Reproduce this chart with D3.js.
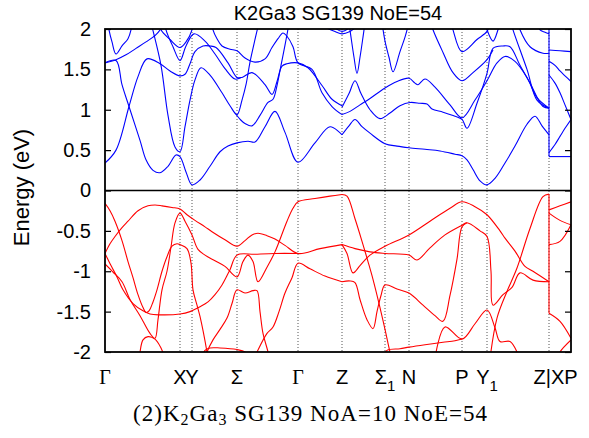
<!DOCTYPE html>
<html><head><meta charset="utf-8">
<script src="https://cdn.jsdelivr.net/npm/d3@7"></script>
<style>body{margin:0;background:#fff}svg{display:block}</style>
</head><body>
<svg id="c" width="589" height="438"></svg>
<script>
// high-symmetry points along the k-path
const kTicks  = [0, 0.75, 0.87, 1.32, 1.93, 2.37, 2.80, 3.04, 3.57, 3.82, 4.44, 4.66];
const kLabels = ["Γ","X","Y","Σ","Γ","Z","Σ","N","P","Y","Z|X","P"];
const kSubs   = ["","","","","","","1","","","1","",""];
const yTicks  = [2, 1.5, 1, 0.5, 0, -0.5, -1, -1.5, -2];
const kJump = 4.44;               // Z|X discontinuity
const cbJump = [0.42, 2.0];       // energies joined at the jump (conduction)
const vbJump = [-1.52, -0.045];   // energies joined at the jump (valence)

// conduction bands [k, E(eV)]
const cbA = [[0,0.34],[0.11,0.50],[0.24,1.04],[0.33,1.41],[0.42,1.63],[0.55,1.57],[0.65,1.48],[0.75,1.42],[0.80,1.44],[0.85,1.57],[0.90,1.72],[0.98,1.79],[1.05,1.79],[1.11,1.77],[1.23,1.58],[1.32,1.40],[1.37,1.40],[1.47,1.46],[1.60,1.31],[1.67,1.19],[1.72,1.35],[1.77,1.54],[1.82,1.57],[1.93,1.58],[2.03,1.52],[2.17,1.30],[2.27,1.13],[2.37,1.05]];
const cbB = [[0,1.58],[0.11,1.61],[0.17,1.31],[0.24,1.04],[0.35,0.62],[0.41,0.38],[0.48,0.25],[0.55,0.22],[0.63,0.30],[0.71,0.44],[0.75,0.42],[0.81,0.23],[0.87,0.07],[0.95,0.13],[1.05,0.30],[1.15,0.48],[1.23,0.55],[1.32,0.59],[1.43,0.61],[1.50,0.60],[1.60,0.79],[1.70,0.98],[1.80,0.72],[1.93,0.35],[2.10,0.59],[2.25,0.79],[2.37,0.69]];
const cbC = [[0.46,2.08],[0.48,1.98],[0.56,1.55],[0.63,0.93],[0.70,0.54],[0.75,0.48],[0.80,0.79],[0.85,1.12],[0.90,1.37],[0.96,1.52],[1.05,1.43],[1.17,1.21],[1.25,1.05],[1.32,0.94],[1.37,1.12],[1.41,1.31],[1.45,1.59],[1.50,1.87],[1.54,2.08]];
const cbD = [[0.03,2.08],[0.04,1.99],[0.07,1.84],[0.11,1.69],[0.17,1.79],[0.23,1.88],[0.26,1.99],[0.27,2.08]];
const cbE = [[0,1.58],[0.11,1.62],[0.21,1.68],[0.31,1.76],[0.41,1.84],[0.51,1.93],[0.57,2.02],[0.60,2.08]];
const cbF = [[0.55,2.08],[0.56,1.99],[0.65,1.87],[0.75,1.77],[0.81,1.84],[0.87,1.99],[0.88,2.08]];
const cbG = [[0.60,2.08],[0.61,1.99],[0.68,1.78],[0.75,1.61],[0.81,1.79],[0.89,1.94],[1.00,1.85],[1.10,1.69],[1.20,1.51],[1.30,1.38],[1.36,1.40]];
const cbH = [[1.07,2.08],[1.08,1.99],[1.12,1.88],[1.17,1.79],[1.25,1.75],[1.32,1.73],[1.40,1.64],[1.50,1.59],[1.60,1.63],[1.67,1.77],[1.73,1.88],[1.78,1.95],[1.82,1.91],[1.88,1.78],[1.93,1.58],[2.07,1.50],[2.17,1.21],[2.27,1.04],[2.37,0.94]];
const cbK = [[1.30,0.96],[1.36,0.87],[1.40,0.83],[1.47,0.80],[1.55,0.93],[1.63,1.09],[1.68,1.13],[1.72,1.30],[1.76,1.55],[1.80,1.80],[1.83,2.0],[1.84,2.08]];
const cbZ1 = [[2.10,2.08],[2.20,2.02],[2.30,1.97],[2.37,1.94],[2.45,1.97],[2.52,2.03],[2.58,2.08]];
const cbZ2 = [[2.22,2.08],[2.30,2.01],[2.37,1.97],[2.44,2.01],[2.50,2.08]];
const cbRlow = [[2.37,0.69],[2.44,0.80],[2.50,0.88],[2.57,0.79],[2.65,0.71],[2.80,0.58],[2.92,0.55],[3.04,0.53],[3.20,0.51],[3.35,0.49],[3.50,0.45],[3.57,0.43],[3.62,0.38],[3.68,0.26],[3.75,0.12],[3.82,0.07],[3.90,0.15],[4.00,0.34],[4.10,0.55],[4.22,0.82],[4.30,0.92],[4.37,0.80],[4.44,0.69]];
const cbRa = [[2.37,1.03],[2.44,1.20],[2.50,1.36],[2.56,1.20],[2.65,1.00],[2.75,0.89],[2.85,0.96],[2.95,1.05],[3.05,1.09],[3.15,1.08],[3.22,1.07],[3.27,1.01],[3.38,0.97],[3.50,0.92],[3.57,0.88],[3.62,0.77],[3.72,1.08],[3.82,1.45],[3.88,1.76],[3.98,1.79],[4.05,1.78],[4.15,1.55],[4.25,1.33],[4.38,1.04],[4.44,1.02]];
const cbRb = [[2.37,0.94],[2.45,0.98],[2.55,1.06],[2.65,1.14],[2.80,1.27],[2.92,1.35],[3.04,1.39],[3.10,1.33],[3.13,1.31],[3.20,1.38],[3.30,1.28],[3.45,1.06],[3.57,0.90],[3.70,1.12],[3.82,1.36],[3.92,1.58],[4.00,1.66],[4.10,1.60],[4.22,1.40],[4.32,1.15],[4.44,1.02]];
const cbRv1 = [[2.44,2.08],[2.46,1.90],[2.49,1.65],[2.52,1.45],[2.55,1.65],[2.58,1.90],[2.60,2.08]];
const cbRv2 = [[2.77,2.08],[2.80,1.85],[2.84,1.65],[2.88,1.47],[2.95,1.72],[3.00,1.90],[3.04,2.08]];
const cbRp1 = [[3.26,2.08],[3.28,1.99],[3.38,1.71],[3.48,1.46],[3.57,1.36],[3.68,1.46],[3.82,1.62],[3.88,1.74]];
const cbRp2 = [[3.46,2.08],[3.48,1.99],[3.57,1.72],[3.72,1.87],[3.82,1.97],[3.85,2.08]];
const cbRy1 = [[3.80,2.08],[3.82,1.99],[3.88,1.85],[3.93,1.99],[3.95,2.08]];
const cbRz1 = [[4.06,2.08],[4.08,1.99],[4.22,1.50],[4.32,1.12],[4.44,1.02]];
const cbRz2 = [[4.13,2.08],[4.15,1.99],[4.25,1.78],[4.38,1.70],[4.44,1.70]];
const cbRz3 = [[4.33,2.08],[4.35,1.99],[4.40,1.96],[4.44,1.94]];
const cbXP1 = [[4.44,1.74],[4.55,1.73],[4.66,1.72]];
const cbXP2 = [[4.44,1.60],[4.50,1.55],[4.55,1.48],[4.60,1.42],[4.66,1.35]];
const cbXP3 = [[4.44,1.43],[4.50,1.33],[4.55,1.21],[4.60,1.06],[4.66,0.88]];
const cbXP4 = [[4.44,0.47],[4.50,0.57],[4.55,0.67],[4.60,0.77],[4.66,0.88]];
const cbXP5 = [[4.44,0.42],[4.66,0.42]];

// valence bands [k, E(eV)]
const vb1 = [[0,-0.16],[0.05,-0.25],[0.10,-0.38],[0.17,-0.62],[0.23,-0.88],[0.28,-1.08],[0.33,-1.29],[0.38,-1.45],[0.41,-1.51],[0.44,-1.49],[0.48,-1.38],[0.52,-1.23],[0.57,-1.00],[0.62,-0.82],[0.67,-0.69],[0.72,-0.66],[0.75,-0.67],[0.82,-0.72],[0.86,-0.90],[0.88,-1.23],[0.92,-1.42],[0.95,-1.56],[1.02,-2.0],[1.03,-2.08]];
const vb2 = [[0,-0.78],[0.05,-0.66],[0.10,-0.57],[0.17,-0.46],[0.23,-0.38],[0.33,-0.25],[0.43,-0.19],[0.50,-0.18],[0.57,-0.19],[0.67,-0.21],[0.75,-0.23],[0.82,-0.30],[0.90,-0.37],[1.00,-0.45],[1.07,-0.51],[1.20,-0.61],[1.32,-0.69],[1.40,-0.62],[1.47,-0.55],[1.53,-0.53],[1.62,-0.56],[1.70,-0.60],[1.80,-0.68],[1.93,-0.78],[2.15,-0.72],[2.37,-0.67]];
const vb3 = [[0,-0.78],[0.06,-0.93],[0.12,-1.07],[0.18,-1.23],[0.28,-1.40],[0.38,-1.49],[0.45,-1.53],[0.55,-1.54],[0.75,-1.53],[0.85,-1.50],[0.95,-1.44],[1.03,-1.38],[1.10,-1.29],[1.17,-1.17],[1.25,-0.98],[1.32,-0.80],[1.50,-0.79],[1.70,-0.78],[1.93,-0.78]];
const vb4 = [[0,-0.91],[0.08,-1.01],[0.17,-1.13],[0.25,-1.35],[0.35,-1.55],[0.45,-1.77],[0.50,-1.83],[0.53,-1.60],[0.57,-1.23],[0.62,-1.00],[0.66,-0.70],[0.70,-0.40],[0.75,-0.28],[0.80,-0.38],[0.87,-0.55],[0.93,-0.73],[1.00,-0.80],[1.10,-0.87],[1.20,-0.94],[1.32,-1.07],[1.38,-0.88],[1.43,-0.80],[1.48,-0.88],[1.53,-1.13],[1.62,-0.95],[1.70,-0.76],[1.82,-0.38],[1.88,-0.22],[1.93,-0.14],[2.10,-0.10],[2.25,-0.07],[2.37,-0.05]];
const vb5 = [[1.00,-2.08],[1.02,-2.0],[1.08,-1.85],[1.15,-1.72],[1.22,-1.58],[1.27,-1.40],[1.32,-1.23],[1.40,-1.27],[1.48,-1.24],[1.52,-1.24],[1.55,-1.50],[1.58,-1.77],[1.63,-2.0],[1.64,-2.08]];
const vb6 = [[0.97,-2.08],[1.00,-1.98],[1.05,-1.95],[1.15,-1.95],[1.32,-1.97],[1.40,-2.0],[1.45,-2.08]];
const vb7 = [[1.49,-2.08],[1.52,-2.0],[1.62,-1.77],[1.68,-1.69],[1.74,-1.50],[1.80,-1.27],[1.87,-1.08],[1.93,-0.90],[2.05,-0.97],[2.20,-1.06],[2.37,-1.13]];
const vb8 = [[0.34,-2.08],[0.35,-2.0],[0.38,-1.85],[0.43,-1.81],[0.50,-1.84],[0.56,-1.95],[0.60,-2.08]];
const vbR1 = [[2.37,-0.05],[2.42,-0.07],[2.50,-0.35],[2.58,-0.67],[2.63,-0.88],[2.68,-1.10],[2.75,-1.45],[2.80,-1.72],[2.85,-2.0],[2.87,-2.08]];
const vbR2 = [[2.37,-0.67],[2.50,-0.72],[2.65,-0.76],[2.80,-0.78],[3.04,-0.80],[3.12,-0.86],[3.25,-0.71],[3.40,-0.55],[3.57,-0.43],[3.62,-0.40],[3.75,-0.50],[3.82,-0.57],[3.86,-1.00],[3.88,-1.42],[3.98,-1.29],[4.07,-1.20],[4.15,-1.02],[4.28,-1.11],[4.44,-1.13]];
const vbR3 = [[2.37,-0.67],[2.42,-0.78],[2.48,-1.02],[2.55,-0.93],[2.65,-0.80],[2.80,-0.69],[3.04,-0.55],[3.25,-0.38],[3.45,-0.22],[3.57,-0.14],[3.70,-0.20],[3.82,-0.30],[3.95,-0.50],[4.00,-0.59],[4.10,-0.75],[4.20,-0.94],[4.28,-1.00],[4.44,-1.13]];
const vbR4 = [[2.37,-1.13],[2.45,-1.12],[2.50,-1.14],[2.55,-1.35],[2.62,-1.60],[2.68,-1.71],[2.72,-1.50],[2.76,-1.30],[2.80,-1.17],[2.92,-1.22],[3.04,-1.27],[3.18,-1.42],[3.30,-1.55],[3.38,-1.62],[3.45,-1.30],[3.52,-0.85],[3.57,-0.45],[3.62,-0.40]];
const vbR5 = [[2.78,-2.08],[2.82,-1.98],[2.95,-1.96],[3.04,-1.94],[3.20,-1.91],[3.38,-1.88],[3.50,-1.86],[3.57,-1.84]];
const vbR6 = [[3.30,-2.08],[3.40,-1.69],[3.57,-1.84],[3.70,-1.65],[3.82,-1.48],[3.90,-1.70],[3.95,-1.87],[4.05,-1.87],[4.12,-2.0],[4.14,-2.08]];
const vbR7 = [[3.85,-2.08],[3.92,-1.58],[4.02,-1.25],[4.12,-0.96],[4.25,-0.47],[4.38,-0.075],[4.44,-0.045]];
const vbXP1 = [[4.44,-0.24],[4.55,-0.19],[4.66,-0.14]];
const vbXP2 = [[4.44,-0.28],[4.55,-0.37],[4.66,-0.425]];
const vbXP3 = [[4.44,-0.67],[4.55,-0.63],[4.66,-0.425]];
const vbXP4 = [[4.44,-1.52],[4.55,-1.62],[4.66,-1.83]];
const vbXP5 = [[4.53,-2.08],[4.55,-2.0],[4.66,-1.85]];

const conduction = [cbA,cbB,cbC,cbD,cbE,cbF,cbG,cbH,cbK,cbZ1,cbZ2,cbRlow,cbRa,cbRb,cbRv1,cbRv2,cbRp1,cbRp2,cbRy1,cbRz1,cbRz2,cbRz3,cbXP1,cbXP2,cbXP3,cbXP4,cbXP5];
const valence = [vb1,vb2,vb3,vb4,vb5,vb6,vb7,vb8,vbR1,vbR2,vbR3,vbR4,vbR5,vbR6,vbR7,vbXP1,vbXP2,vbXP3,vbXP4,vbXP5];

const M = {l:105, r:571, t:29, b:352};
const x = d3.scaleLinear().domain([0, 4.66]).range([M.l, M.r]);
const y = d3.scaleLinear().domain([-2, 2]).range([M.b, M.t]);
const svg = d3.select("#c");
const SANS = "'Liberation Sans', Arial, Helvetica, sans-serif";
const SERIF = "'Liberation Serif', 'Times New Roman', serif";

svg.append("defs").append("clipPath").attr("id","clip")
  .append("rect").attr("x",M.l).attr("y",M.t).attr("width",M.r-M.l).attr("height",M.b-M.t);

// dotted verticals
svg.append("g").selectAll("line").data(kTicks.slice(1,-1)).join("line")
  .attr("x1",d=>x(d)).attr("x2",d=>x(d)).attr("y1",M.t).attr("y2",M.b)
  .attr("stroke","#555").attr("stroke-width",1).attr("stroke-dasharray","1,2");

// zero line
svg.append("line").attr("x1",M.l).attr("x2",M.r).attr("y1",y(0)).attr("y2",y(0))
  .attr("stroke","#000").attr("stroke-width",1.5);

const line = d3.line().x(d=>x(d[0])).y(d=>y(d[1])).curve(d3.curveCatmullRom.alpha(0.5));
const g = svg.append("g").attr("clip-path","url(#clip)");
g.selectAll("path.cb").data(conduction).join("path").attr("class","cb")
  .attr("d",line).attr("fill","none").attr("stroke","#0000ff").attr("stroke-width",1.1);
g.selectAll("path.vb").data(valence).join("path").attr("class","vb")
  .attr("d",line).attr("fill","none").attr("stroke","#ff0000").attr("stroke-width",1.1);
g.append("line").attr("x1",x(kJump)).attr("x2",x(kJump)).attr("y1",y(cbJump[0])).attr("y2",y(cbJump[1]))
  .attr("stroke","#0000ff").attr("stroke-width",1.1);
g.append("line").attr("x1",x(kJump)).attr("x2",x(kJump)).attr("y1",y(vbJump[0])).attr("y2",y(vbJump[1]))
  .attr("stroke","#ff0000").attr("stroke-width",1.1);

// axes
const ay = svg.append("g").attr("transform",`translate(${M.l},0)`)
  .call(d3.axisLeft(y).tickValues(yTicks).tickSize(-6).tickPadding(14).tickFormat(d=>String(d)));
ay.select(".domain").remove();
ay.selectAll("line").attr("stroke","#000").attr("stroke-width",1.2);
ay.selectAll("text").attr("font-family",SANS).attr("font-size",20).attr("fill","#000");
const ayr = svg.append("g").attr("transform",`translate(${M.r},0)`)
  .call(d3.axisRight(y).tickValues(yTicks).tickSize(-6).tickFormat(""));
ayr.select(".domain").remove();
ayr.selectAll("line").attr("stroke","#000").attr("stroke-width",1.2);

// frame
svg.append("rect").attr("x",M.l).attr("y",M.t).attr("width",M.r-M.l).attr("height",M.b-M.t)
  .attr("fill","none").attr("stroke","#000").attr("stroke-width",1.8);

// x labels
const xl = svg.append("g").selectAll("text").data(kTicks).join("text")
  .attr("x",d=>x(d)).attr("y",384).attr("text-anchor","middle")
  .attr("font-size",20).attr("fill","#000")
  .attr("font-family",(d,i)=>kLabels[i]==="Γ"?SERIF:SANS);
xl.each(function(d,i){
  const t = d3.select(this);
  t.append("tspan").text(kLabels[i]);
  if (kSubs[i]) t.append("tspan").attr("dy",7).attr("font-size",15).text(kSubs[i]);
});

// title
svg.append("text").attr("x",(M.l+M.r)/2).attr("y",20).attr("text-anchor","middle")
  .attr("font-family",SANS).attr("font-size",20).text("K2Ga3 SG139 NoE=54");

// y label
svg.append("text").attr("transform",`translate(29,${y(0)-3}) rotate(-90)`).attr("text-anchor","middle")
  .attr("font-family",SANS).attr("font-size",22).text("Energy (eV)");

// caption
const cap = svg.append("text").attr("x",310).attr("y",421).attr("text-anchor","middle")
  .attr("font-family",SERIF).attr("font-size",23)
  .attr("textLength",354).attr("lengthAdjust","spacing");
cap.append("tspan").text("(2)K");
cap.append("tspan").attr("dy",4).attr("font-size",16).text("2");
cap.append("tspan").attr("dy",-4).text("Ga");
cap.append("tspan").attr("dy",4).attr("font-size",16).text("3");
cap.append("tspan").attr("dy",-4).text(" SG139 NoA=10 NoE=54");
</script>
</body></html>
